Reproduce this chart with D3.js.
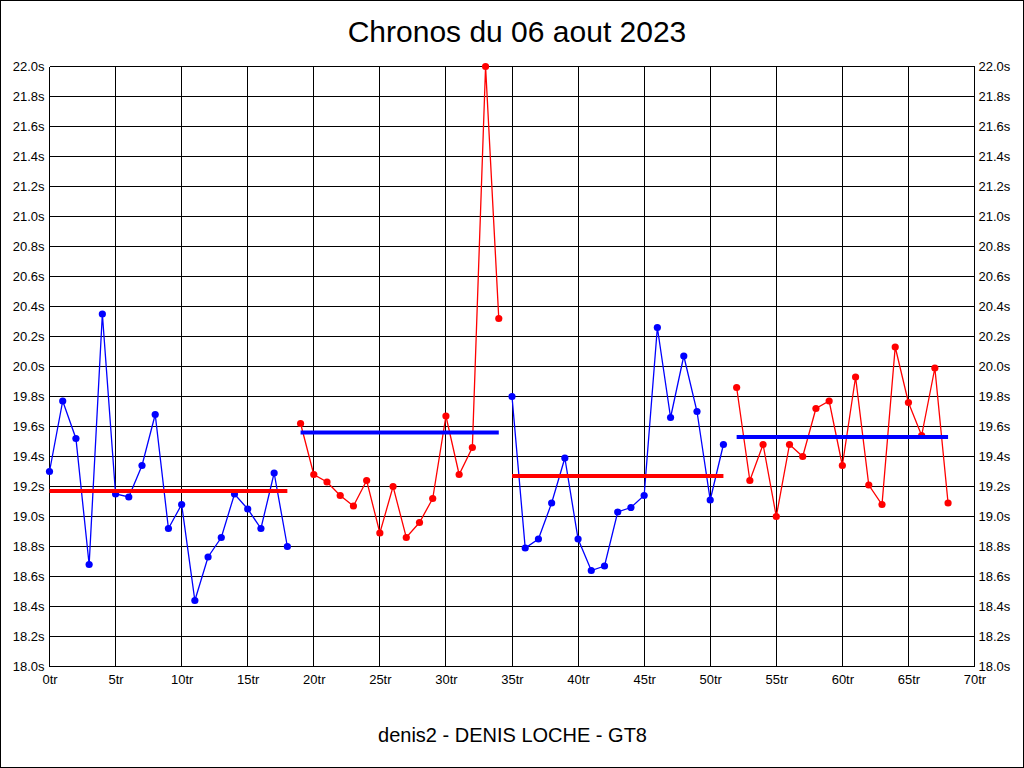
<!DOCTYPE html>
<html>
<head>
<meta charset="utf-8">
<script src="https://cdn.jsdelivr.net/npm/d3@7"></script>
<style>
html,body{margin:0;padding:0;background:#fff;}
svg{display:block;}
text{font-family:"Liberation Sans",Arial,sans-serif;fill:#000;}
</style>
</head>
<body>
<script>
// ---- data ----
const title = "Chronos du 06 aout 2023";
const subtitle = "denis2 - DENIS LOCHE - GT8";
const stintStarts = [0, 19, 35, 52];
const stint1 = [19.30,19.77,19.52,18.68,20.35,19.15,19.13,19.34,19.68,18.92,19.08,18.44,18.73,18.86,19.15,19.05,18.92,19.29,18.80];
const stint2 = [19.62,19.28,19.23,19.14,19.07,19.24,18.89,19.20,18.86,18.96,19.12,19.67,19.28,19.46,22.00,20.32];
const stint3 = [19.80,18.79,18.85,19.09,19.39,18.85,18.64,18.67,19.03,19.06,19.14,20.26,19.66,20.07,19.70,19.11,19.48];
const stint4 = [19.86,19.24,19.48,19.00,19.48,19.40,19.72,19.77,19.34,19.93,19.21,19.08,20.13,19.76,19.54,19.99,19.09];
const stintAverages = [19.17, 19.56, 19.27, 19.53];
const stintColors = ["#0000ff", "#ff0000", "#0000ff", "#ff0000"];
const avgColors = ["#ff0000", "#0000ff", "#ff0000", "#0000ff"];
const xTicks = [0,5,10,15,20,25,30,35,40,45,50,55,60,65,70];
const yTicks = [18.0,18.2,18.4,18.6,18.8,19.0,19.2,19.4,19.6,19.8,20.0,20.2,20.4,20.6,20.8,21.0,21.2,21.4,21.6,21.8,22.0];

const stints = [stint1, stint2, stint3, stint4];

// ---- layout ----
const W = 1024, H = 768;
const svg = d3.select("body").append("svg").attr("width", W).attr("height", H);

svg.append("rect").attr("x",0.5).attr("y",0.5).attr("width",W-1).attr("height",H-1)
  .attr("fill","#fff").attr("stroke","#000").attr("shape-rendering","crispEdges");

const x = d3.scaleLinear().domain([0,70]).range([49.5, 974.5]);
const y = d3.scaleLinear().domain([18,22]).range([666.5, 66.5]);

// grid
const grid = svg.append("g").attr("stroke","#000").attr("stroke-width",1).attr("shape-rendering","crispEdges");
grid.selectAll("line.v").data(xTicks).join("line")
  .attr("x1", d=>x(d)).attr("x2", d=>x(d)).attr("y1", y(22)).attr("y2", y(18));
grid.selectAll("line.h").data(yTicks).join("line")
  .attr("y1", d=>y(d)).attr("y2", d=>y(d)).attr("x1", x(0)).attr("x2", x(70));

// axes labels
const fmtY = d => d3.format(".1f")(d) + "s";
const leftAxis = d3.axisLeft(y).tickValues(yTicks).tickFormat(fmtY).tickSize(0).tickPadding(5);
const rightAxis = d3.axisRight(y).tickValues(yTicks).tickFormat(fmtY).tickSize(0).tickPadding(4);
const bottomAxis = d3.axisBottom(x).tickValues(xTicks).tickFormat(d => d + "tr").tickSize(0).tickPadding(8);

function styleAxis(g){
  g.select(".domain").remove();
  g.selectAll("text").style("font-family","'Liberation Sans',Arial,sans-serif").style("font-size","13px").attr("fill","#000");
}
svg.append("g").attr("transform", `translate(${x(0)},0)`).call(leftAxis).call(styleAxis);
svg.append("g").attr("transform", `translate(${x(70)},0)`).call(rightAxis).call(styleAxis);
svg.append("g").attr("transform", `translate(0,${y(18)})`).call(bottomAxis).call(styleAxis);

// data
const line = d3.line().x(d=>x(d.lap)).y(d=>y(d.t));
stints.forEach((s, i) => {
  const pts = s.map((t, j) => ({lap: stintStarts[i] + j, t}));
  const g = svg.append("g");
  g.append("path").datum(pts).attr("d", line).attr("fill","none")
    .attr("stroke", stintColors[i]).attr("stroke-width", 1.3);
  g.selectAll("circle").data(pts).join("circle")
    .attr("cx", d=>x(d.lap)).attr("cy", d=>y(d.t)).attr("r", 3.6)
    .attr("fill", stintColors[i]);
  // average line
  svg.append("line")
    .attr("x1", x(stintStarts[i])).attr("x2", x(stintStarts[i] + s.length - 1))
    .attr("y1", y(stintAverages[i])).attr("y2", y(stintAverages[i]))
    .attr("stroke", avgColors[i]).attr("stroke-width", 4);
});

// titles
svg.append("text").attr("x", 517).attr("y", 42).attr("text-anchor","middle")
  .style("font-size","30px").text(title);
svg.append("text").attr("x", 512.5).attr("y", 742).attr("text-anchor","middle")
  .style("font-size","20px").text(subtitle);
</script>
</body>
</html>
